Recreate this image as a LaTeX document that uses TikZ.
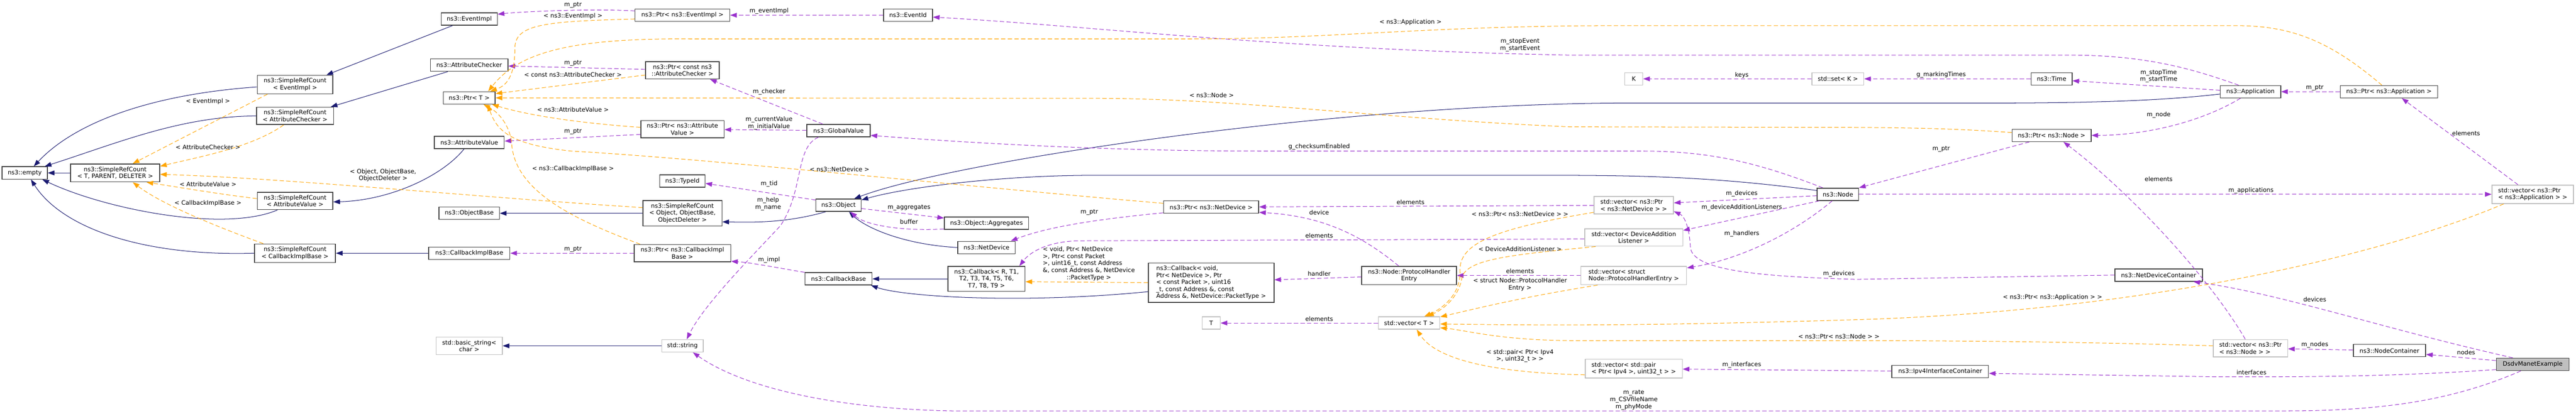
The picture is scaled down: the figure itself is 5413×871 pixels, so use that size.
\documentclass[tikz,border=0pt]{standalone}
\usepackage{fontspec}
\setmainfont{DejaVu Sans}
\usetikzlibrary{arrows.meta, positioning}
\definecolor{inhcol}{HTML}{191970}
\definecolor{memcol}{HTML}{9A32CD}
\definecolor{tplcol}{HTML}{FFA500}
\definecolor{boxcol}{HTML}{404040}
\definecolor{extcol}{HTML}{BFBFBF}
\begin{document}
\begin{tikzpicture}[x=1pt, y=-1pt,
  every node/.style={font=\fontsize{12.6}{14.7}\selectfont},
  cls/.style={draw=boxcol, line width=1.6pt, fill=white, inner xsep=3pt, inner ysep=6pt, minimum height=26, align=center},
  ext/.style={cls, draw=extcol},
  lbl/.style={inner sep=0pt, align=center},
  inh/.style={draw=inhcol, line width=1.1pt, -{Triangle[length=14pt,width=10pt]}},
  mem/.style={draw=memcol, line width=1.1pt, dash pattern=on 9pt off 5pt, -{Triangle[length=14pt,width=10pt]}},
  tpl/.style={draw=tplcol, line width=1.1pt, dash pattern=on 9pt off 5pt, -{Triangle[length=14pt,width=10pt]}}]
  \path[use as bounding box, fill=white] (0,0) rectangle (5413,871);

  \node[cls, minimum width=95] (empty) at (52,364) {ns3::empty};
  \node[cls, minimum width=187] (srcTPD) at (242,364) {ns3::SimpleRefCount\\< T, PARENT, DELETER >};
  \node[cls, minimum width=159] (srcEI) at (620,178) {ns3::SimpleRefCount\\< EventImpl >};
  \node[cls, minimum width=162] (srcAC) at (620,244) {ns3::SimpleRefCount\\< AttributeChecker >};
  \node[cls, minimum width=159] (srcAV) at (620,423) {ns3::SimpleRefCount\\< AttributeValue >};
  \node[cls, minimum width=170] (srcCIB) at (620,533) {ns3::SimpleRefCount\\< CallbackImplBase >};
  \node[cls, minimum width=118] (eventimpl) at (986,40) {ns3::EventImpl};
  \node[cls, minimum width=163] (attrchk) at (986,137) {ns3::AttributeChecker};
  \node[cls, minimum width=109] (ptrT) at (986,206) {ns3::Ptr< T >};
  \node[cls, minimum width=147] (attrval) at (986,300) {ns3::AttributeValue};
  \node[cls, minimum width=127] (objbase) at (986,449) {ns3::ObjectBase};
  \node[cls, minimum width=171] (cibase) at (986,533) {ns3::CallbackImplBase};
  \node[ext, minimum width=139] (basicstr) at (986,728) {std::basic\_string<\\char >};
  \node[cls, minimum width=199] (ptrEI) at (1434,32) {ns3::Ptr< ns3::EventImpl >};
  \node[cls, minimum width=155] (ptrCAC) at (1434,148) {ns3::Ptr< const ns3\\::AttributeChecker >};
  \node[cls, minimum width=175] (ptrAV) at (1434,272) {ns3::Ptr< ns3::Attribute\\Value >};
  \node[cls, minimum width=95] (typeid) at (1434,381) {ns3::TypeId};
  \node[cls, minimum width=166] (srcObj) at (1434,449) {ns3::SimpleRefCount\\< Object, ObjectBase,\\ObjectDeleter >};
  \node[cls, minimum width=203] (ptrCIB) at (1434,533) {ns3::Ptr< ns3::CallbackImpl\\Base >};
  \node[ext, minimum width=87] (stdstring) at (1434,728) {std::string};
  \node[cls, minimum width=103] (eventid) at (1908,32) {ns3::EventId};
  \node[cls, minimum width=133] (globalvalue) at (1762,275) {ns3::GlobalValue};
  \node[cls, minimum width=95] (nsobject) at (1762,432) {ns3::Object};
  \node[cls, minimum width=141] (cbbase) at (1762,587) {ns3::CallbackBase};
  \node[cls, minimum width=177] (aggregates) at (2073,470) {ns3::Object::Aggregates};
  \node[cls, minimum width=121] (netdevice) at (2073,521) {ns3::NetDevice};
  \node[cls, minimum width=162] (callbackR) at (2073,587) {ns3::Callback< R, T1,\\ T2, T3, T4, T5, T6,\\ T7, T8, T9 >};
  \node[cls, minimum width=200] (ptrND) at (2545,436) {ns3::Ptr< ns3::NetDevice >};
  \node[cls, minimum width=264, align=left] (callbackV) at (2545,595) {ns3::Callback< void,\\ Ptr< NetDevice >, Ptr\\< const Packet >, uint16\\\_t, const Address \&, const\\ Address \&, NetDevice::PacketType >};
  \node[ext, minimum width=38] (tT) at (2545,680) {T};
  \node[cls, minimum width=199] (phe) at (2961,580) {ns3::Node::ProtocolHandler\\Entry};
  \node[ext, minimum width=129] (vecT) at (2961,680) {std::vector< T >};
  \node[ext, minimum width=38] (tK) at (3433,166) {K};
  \node[ext, minimum width=167, align=left] (vecPND) at (3433,432) {std::vector< ns3::Ptr\\< ns3::NetDevice > >};
  \node[ext, minimum width=206] (vecDAL) at (3433,500) {std::vector< DeviceAddition\\Listener >};
  \node[ext, minimum width=222, align=left] (vecPHE) at (3433,580) {std::vector< struct\\ Node::ProtocolHandlerEntry >};
  \node[ext, minimum width=204, align=left] (vecPair) at (3433,776) {std::vector< std::pair\\< Ptr< Ipv4 >, uint32\_t > >};
  \node[ext, minimum width=109] (stdset) at (3862,166) {std::set< K >};
  \node[cls, minimum width=87] (nsnode) at (3862,409) {ns3::Node};
  \node[cls, minimum width=86] (nstime) at (4311,166) {ns3::Time};
  \node[cls, minimum width=166] (ptrNode) at (4311,285) {ns3::Ptr< ns3::Node >};
  \node[cls, minimum width=203] (ipv4ic) at (4077,782) {ns3::Ipv4InterfaceContainer};
  \node[cls, minimum width=184] (ndc) at (4536,579) {ns3::NetDeviceContainer};
  \node[cls, minimum width=127] (application) at (4729,193) {ns3::Application};
  \node[ext, minimum width=156, align=left] (vecPN) at (4729,733) {std::vector< ns3::Ptr\\< ns3::Node > >};
  \node[cls, minimum width=205] (ptrApp) at (5020,193) {ns3::Ptr< ns3::Application >};
  \node[cls, minimum width=152] (nc) at (5021,738) {ns3::NodeContainer};
  \node[ext, minimum width=171, align=left] (vecPA) at (5322,409) {std::vector< ns3::Ptr\\< ns3::Application > >};
  \node[cls, minimum width=153, fill=extcol] (dsdv) at (5322,767) {DsdvManetExample};

  \draw[inh] ([yshift=-5]srcEI.west) .. controls (300,200) and (150,265) .. ([xshift=19]empty.north);
  \draw[inh] (srcAC.west) .. controls (380,245) and (250,300) .. ([xshift=42]empty.north);
  \draw[inh] (srcTPD) -- (empty);
  \draw[inh] ([xshift=-37]srcAV.south) .. controls (470,490) and (220,440) .. ([xshift=37]empty.south);
  \draw[inh] (srcCIB.west) .. controls (300,540) and (130,480) .. ([xshift=13]empty.south);
  \draw[inh] ([xshift=-35]eventimpl.south) -- ([xshift=66]srcEI.north);
  \draw[inh] ([xshift=-45]attrchk.south) -- ([xshift=75]srcAC.north);
  \draw[inh] ([xshift=-11]attrval.south) .. controls (930,370) and (820,422) .. ([yshift=-2]srcAV.east);
  \draw[inh] (cibase) -- (srcCIB);
  \draw[inh] (srcObj) -- (objbase);
  \draw[inh] ([xshift=-27]nsobject.south) .. controls (1650,470) and (1580,468) .. ([yshift=-18]srcObj.east);
  \draw[inh] (callbackR) -- (cbbase);
  \draw[inh] ([yshift=-19]callbackV.west) .. controls (2150,640) and (1900,625) .. ([xshift=-3]cbbase.south east);
  \draw[inh] (netdevice.west) .. controls (1900,515) and (1820,480) .. ([xshift=22]nsobject.south);
  \draw[inh] ([yshift=8]nsnode.west) .. controls (3600,372) and (3450,369) .. (3250,369) -- (2300,369) .. controls (2100,369) and (1900,395) .. ([yshift=11]nsobject.east);
  \draw[inh] ([yshift=-5]application.west) .. controls (4500,217) and (4300,217) .. (4100,217) -- (3400,217) .. controls (2800,220) and (2000,340) .. ([xshift=33]nsobject.north);
  \draw[inh] (stdstring) -- (basicstr);

  \draw[mem] ([yshift=9]ptrEI.west) .. controls (1250,18) and (1100,24) .. ([yshift=10]eventimpl.east);
  \draw[mem] (eventid) -- (ptrEI);
  \draw[mem] ([xshift=-25]application.north) .. controls (4620,150) and (4520,116) .. (4350,116) -- (3300,116) .. controls (2700,105) and (2300,55) .. ([yshift=-4]eventid.east);
  \draw[mem] ([yshift=2]ptrCAC.west) -- ([yshift=-2]attrchk.east);
  \draw[mem] ([xshift=-33]globalvalue.north) -- ([xshift=58]ptrCAC.south);
  \draw[mem] (globalvalue) -- (ptrAV);
  \draw[mem] ([yshift=-11]ptrAV.west) -- ([yshift=3]attrval.east);
  \draw[mem] (ptrCIB) -- (cibase);
  \draw[mem] (cbbase.north west) .. controls (1640,565) and (1580,553) .. ([yshift=-17]ptrCIB.east);
  \draw[mem] ([xshift=-42]globalvalue.south) .. controls (1670,310) and (1690,400) .. (1640,475) .. controls (1580,540) and (1480,640) .. ([xshift=9]stdstring.north);
  \draw[mem] ([yshift=11]nsobject.west) -- ([yshift=-5]typeid.east);
  \draw[mem] ([yshift=-7]nsobject.east) -- ([yshift=11]aggregates.west);
  \draw[mem] ([yshift=-12]aggregates.west) .. controls (1900,487) and (1820,475) .. ([xshift=25]nsobject.south);
  \draw[mem] ([yshift=-12]ptrND.west) .. controls (2300,462) and (2200,478) .. ([xshift=51]netdevice.north);
  \draw[mem] ([xshift=-32]nsnode.north) .. controls (3700,345) and (3600,318) .. (3450,318) -- (2650,318) .. controls (2300,318) and (2000,298) .. ([yshift=-10]globalvalue.east);
  \draw[mem] (vecPND) -- (ptrND);
  \draw[mem] ([xshift=-22]phe.north) .. controls (2860,495) and (2780,455) .. ([yshift=-11]ptrND.east);
  \draw[mem] ([yshift=-3]vecDAL.west) -- (2260,507) .. controls (2200,510) and (2165,530) .. ([xshift=69]callbackR.north);
  \draw[mem] (vecPHE) -- (phe);
  \draw[mem] ([yshift=-3]phe.west) -- ([yshift=6]callbackV.east);
  \draw[mem] (vecT) -- (tT);
  \draw[mem] ([yshift=-3]nsnode.west) -- ([yshift=5]vecPND.east);
  \draw[mem] ([xshift=-39]nsnode.south) -- ([yshift=15]vecDAL.east);
  \draw[mem] ([xshift=-12]nsnode.south) .. controls (3770,490) and (3660,545) .. ([yshift=16]vecPHE.east);
  \draw[mem] ([xshift=-47]ptrNode.south) -- (nsnode.north east);
  \draw[mem] ([xshift=-21]application.south) .. controls (4620,260) and (4500,285) .. (ptrNode.east);
  \draw[mem] ([yshift=3]application.west) -- ([yshift=-4]nstime.east);
  \draw[mem] (nstime) -- (stdset);
  \draw[mem] (stdset) -- (tK);
  \draw[mem] (ptrApp) -- (application);
  \draw[mem] ([xshift=-31]vecPA.north) -- ([xshift=27]ptrApp.south);
  \draw[mem] (nsnode) -- (vecPA);
  \draw[mem] ([xshift=-11]vecPN.north) .. controls (4640,580) and (4470,400) .. ([xshift=25]ptrNode.south);
  \draw[mem] (ndc.west) -- (3900,588) .. controls (3700,582) and (3555,570) .. (3552,520) .. controls (3550,480) and (3540,455) .. ([yshift=-13]vecPND.east);
  \draw[mem] (nc) -- (vecPN);
  \draw[mem] ([yshift=8]dsdv.west) -- ([yshift=-8]nc.east);
  \draw[mem] ([xshift=-42]dsdv.north) .. controls (5000,690) and (4800,620) .. ([xshift=-20]ndc.south east);
  \draw[mem] ([yshift=-11]dsdv.west) .. controls (5000,795) and (4800,793) .. (4650,793) -- ([yshift=-4]ipv4ic.east);
  \draw[mem] (ipv4ic) -- (vecPair);
  \draw[mem] ([xshift=-25]dsdv.south) .. controls (5150,845) and (5000,865) .. (4800,865) -- (2000,865) .. controls (1750,860) and (1560,815) .. ([xshift=22]stdstring.south);

  \draw[tpl] ([xshift=-58]srcEI.south) -- ([xshift=37]srcTPD.north);
  \draw[tpl] ([xshift=-24]srcAC.south) .. controls (530,310) and (420,330) .. ([yshift=14]srcTPD.east);
  \draw[tpl] ([yshift=12]srcObj.west) .. controls (1000,415) and (600,375) .. ([yshift=-3]srcTPD.east);
  \draw[tpl] ([yshift=5]srcAV.west) .. controls (470,410) and (380,395) .. ([xshift=66]srcTPD.south);
  \draw[tpl] ([xshift=-67]srcCIB.north) .. controls (450,475) and (340,430) .. ([xshift=37]srcTPD.south);
  \draw[tpl] ([yshift=-8]ptrEI.west) .. controls (1150,45) and (1083,50) .. (1082,100) .. controls (1082,160) and (1065,180) .. ([xshift=44]ptrT.north);
  \draw[tpl] ([xshift=-15]ptrApp.north) .. controls (4900,90) and (4820,54) .. (4700,54) -- (3400,54) .. controls (3000,54) and (2800,82) .. (2500,82) -- (1450,82) .. controls (1200,80) and (1090,110) .. ([xshift=40]ptrT.north);
  \draw[tpl] ([yshift=-10]ptrCAC.west) -- ([yshift=9]ptrT.east);
  \draw[tpl] ([yshift=6]ptrNode.west) .. controls (4100,270) and (4000,268) .. (3800,268) -- (3300,267) .. controls (2900,250) and (2600,207) .. (2300,207) -- (ptrT.east);
  \draw[tpl] ([yshift=4]ptrAV.west) .. controls (1200,258) and (1100,240) .. ([xshift=48]ptrT.south);
  \draw[tpl] ([xshift=-89]ptrCIB.north) .. controls (1200,460) and (1080,400) .. (1075,300) .. controls (1070,260) and (1045,235) .. ([xshift=30]ptrT.south);
  \draw[tpl] ([yshift=8]ptrND.west) .. controls (2000,390) and (1500,335) .. (1200,318) .. controls (1080,305) and (1045,280) .. ([xshift=39]ptrT.south);
  \draw[tpl] (callbackV.west) -- ([yshift=-6]callbackR.east);
  \draw[tpl] ([yshift=-15]vecPND.west) .. controls (3150,480) and (3065,510) .. (3068,570) .. controls (3070,620) and (3030,650) .. ([xshift=32]vecT.north);
  \draw[tpl] ([xshift=-80]vecDAL.south) .. controls (3180,536) and (3080,545) .. (3072,585) .. controls (3065,625) and (3035,650) .. ([xshift=38]vecT.north);
  \draw[tpl] ([xshift=-76]vecPHE.south) .. controls (3200,625) and (3100,650) .. ([yshift=13]vecT.east);
  \draw[tpl] ([yshift=5]vecPN.west) .. controls (4400,720) and (4100,717) .. (3900,717) -- (3300,717) .. controls (3150,716) and (3080,695) .. ([yshift=-10]vecT.east);
  \draw[tpl] ([xshift=-61]vecPA.south) .. controls (5000,540) and (4500,655) .. (3900,673) .. controls (3400,688) and (3200,684) .. ([yshift=-2]vecT.east);
  \draw[tpl] ([yshift=-13]vecPair.west) .. controls (3150,785) and (3020,760) .. ([xshift=16]vecT.south);

  \node[lbl] (l1) at (437,214) {< EventImpl >};
  \node[lbl] (l2) at (437,310) {< AttributeChecker >};
  \node[lbl] (l3) at (437,388) {< AttributeValue >};
  \node[lbl] (l4) at (437,428) {< CallbackImplBase >};
  \node[lbl] (l5) at (805,369) {< Object, ObjectBase,\\ObjectDeleter >};
  \node[lbl] (l6) at (1204,11) {m\_ptr};
  \node[lbl] (l7) at (1204,34) {< ns3::EventImpl >};
  \node[lbl] (l8) at (1204,133) {m\_ptr};
  \node[lbl] (l9) at (1204,157) {< const ns3::AttributeChecker >};
  \node[lbl] (l10) at (1204,231) {< ns3::AttributeValue >};
  \node[lbl] (l11) at (1204,277) {m\_ptr};
  \node[lbl] (l12) at (1204,355) {< ns3::CallbackImplBase >};
  \node[lbl] (l13) at (1204,525) {m\_ptr};
  \node[lbl] (l14) at (1616,23) {m\_eventImpl};
  \node[lbl] (l15) at (1616,193) {m\_checker};
  \node[lbl] (l16) at (1616,259) {m\_currentValue\\m\_initialValue};
  \node[lbl] (l17) at (1764,356) {< ns3::NetDevice >};
  \node[lbl] (l18) at (1616,387) {m\_tid};
  \node[lbl] (l19) at (1614,429) {m\_help\\m\_name};
  \node[lbl] (l20) at (1910,437) {m\_aggregates};
  \node[lbl] (l21) at (1910,467) {buffer};
  \node[lbl] (l22) at (1616,547) {m\_impl};
  \node[lbl, align=left] (l23) at (2288,555) {< void, Ptr< NetDevice\\>, Ptr< const Packet\\>, uint16\_t, const Address\\\&, const Address \&, NetDevice\\\hspace*{50pt}::PacketType >};
  \node[lbl] (l24) at (2289,447) {m\_ptr};
  \node[lbl] (l25) at (2546,200) {< ns3::Node >};
  \node[lbl] (l26) at (2964,47) {< ns3::Application >};
  \node[lbl] (l27) at (3194,95) {m\_stopEvent\\m\_startEvent};
  \node[lbl] (l28) at (2772,309) {g\_checksumEnabled};
  \node[lbl] (l29) at (2964,426) {elements};
  \node[lbl] (l30) at (2772,447) {device};
  \node[lbl] (l31) at (3194,450) {< ns3::Ptr< ns3::NetDevice > >};
  \node[lbl] (l32) at (2772,496) {elements};
  \node[lbl] (l33) at (3194,524) {< DeviceAdditionListener >};
  \node[lbl] (l34) at (2772,576) {handler};
  \node[lbl] (l35) at (3194,571) {elements};
  \node[lbl] (l36) at (3194,599) {< struct Node::ProtocolHandler\\Entry >};
  \node[lbl] (l37) at (2772,671) {elements};
  \node[lbl] (l38) at (3194,749) {< std::pair< Ptr< Ipv4\\>, uint32\_t > >};
  \node[lbl] (l39) at (3660,158) {keys};
  \node[lbl] (l40) at (3660,407) {m\_devices};
  \node[lbl] (l41) at (3660,437) {m\_deviceAdditionListeners};
  \node[lbl] (l42) at (3660,492) {m\_handlers};
  \node[lbl] (l43) at (3864,576) {m\_devices};
  \node[lbl] (l44) at (3864,708) {< ns3::Ptr< ns3::Node > >};
  \node[lbl] (l45) at (3660,768) {m\_interfaces};
  \node[lbl] (l46) at (3433,842) {m\_rate\\m\_CSVfileName\\m\_phyMode};
  \node[lbl] (l47) at (4079,158) {g\_markingTimes};
  \node[lbl] (l48) at (4536,160) {m\_stopTime\\m\_startTime};
  \node[lbl] (l49) at (4536,242) {m\_node};
  \node[lbl] (l50) at (4079,314) {m\_ptr};
  \node[lbl] (l51) at (4536,377) {elements};
  \node[lbl] (l52) at (4313,626) {< ns3::Ptr< ns3::Application > >};
  \node[lbl] (l53) at (4864,185) {m\_ptr};
  \node[lbl] (l54) at (5182,281) {elements};
  \node[lbl] (l55) at (4730,401) {m\_applications};
  \node[lbl] (l56) at (4864,630) {devices};
  \node[lbl] (l57) at (4864,726) {m\_nodes};
  \node[lbl] (l58) at (5182,742) {nodes};
  \node[lbl] (l59) at (4731,784) {interfaces};
\end{tikzpicture}
\end{document}
